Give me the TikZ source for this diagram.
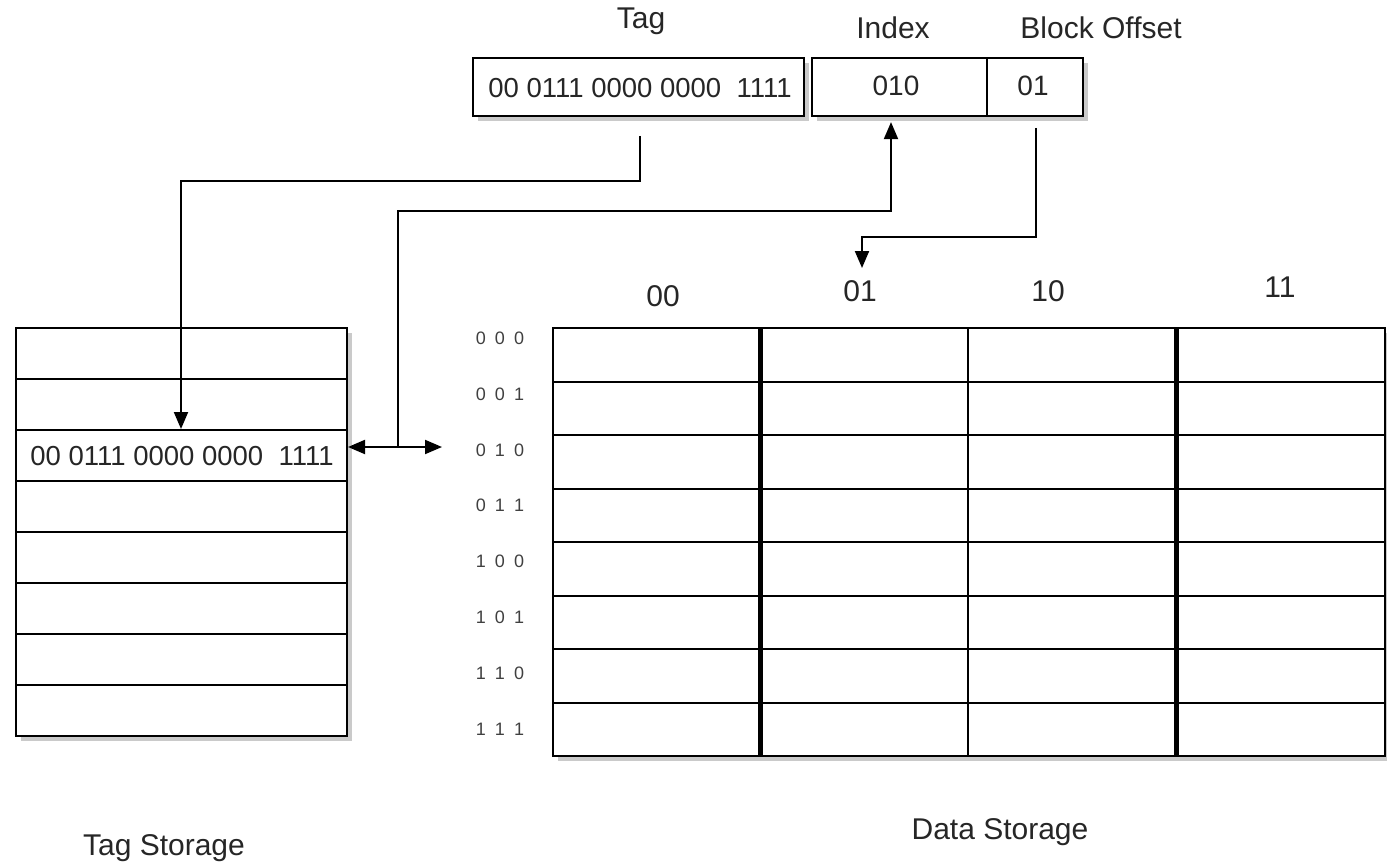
\documentclass[tikz,border=0pt]{standalone}
\usepackage{fontspec}
\setmainfont{Liberation Sans}
\usetikzlibrary{arrows.meta,shadows}
\begin{document}
\begin{tikzpicture}[x=1pt,y=-1pt,
  lbl/.style={font=\fontsize{30}{34}\selectfont, inner sep=0pt, text=black!85},
  val/.style={font=\fontsize{28}{32}\selectfont, inner sep=0pt, text=black!85},
  tagtxt/.style={font=\fontsize{27.5}{31}\selectfont, inner sep=0pt, text=black!85},
  rowlbl/.style={font=\fontsize{18}{20}\selectfont, inner sep=0pt, text=black!75,
     execute at begin node={\spaceskip=9pt\relax}},
  box/.style={draw=black, line width=2.2pt, fill=white, inner sep=0pt,
     drop shadow={shadow xshift=5pt, shadow yshift=-5pt, opacity=0.35, fill=black!60}},
  cell/.style={draw=black, line width=2pt, inner sep=0pt, minimum width=331pt, minimum height=51pt},
  arr/.style={line width=2pt, -{Triangle[length=17pt,width=14pt]}}
]
\useasboundingbox (0,0) rectangle (1387,864);

% ---- address fields
\node[box, minimum width=331pt, minimum height=58pt] (tagbox) at (638.5,87) {};
\node[tagtxt] (tagval) at (640,88) {00 0111 0000 0000~~1111};
\node[box, minimum width=175pt, minimum height=58pt] (idx) at (899.5,87) {};
\node[val] (idxval) at (896,86) {010};
\node[box, minimum width=96pt, minimum height=58pt] (off) at (1035,87) {};
\node[val] (offval) at (1033,86) {01};
\node[lbl] (ltag) at (641,21) {Tag};
\node[lbl] (lidx) at (893,28) {Index};
\node[lbl] (loff) at (1101,28) {Block Offset};

% ---- tag storage
\node[box, minimum width=331pt, minimum height=408pt] (ts) at (181.5,532) {};
\foreach \i in {1,...,8}{
  \node[cell] (ts\i) at (181.5,{328+51*(\i-1)+25.5}) {};
}
\node[tagtxt] (tsval) at (182,456) {00 0111 0000 0000~~1111};
\node[lbl] (lts) at (164,848) {Tag Storage};

% ---- data storage
\node[box, minimum width=832pt, minimum height=428pt] (ds) at (969,542) {};
\foreach \i in {1,...,7}{
  \draw[line width=2pt] (553,{328+53.5*\i}) -- (1385,{328+53.5*\i});
}
\draw[line width=5pt] (760,328) -- (760,756);
\draw[line width=2pt] (968,328) -- (968,756);
\draw[line width=5pt] (1176,328) -- (1176,756);
\draw[line width=2.2pt] (553,328) rectangle (1385,756);
\foreach \t [count=\i from 0] in {0 0 0,0 0 1,0 1 0,0 1 1,1 0 0,1 0 1,1 1 0,1 1 1}{
  \node[rowlbl] (r\i) at (500,{338+55.9*\i}) {\t};
}
\node[lbl] (c00) at (663,296) {00};
\node[lbl] (c01) at (860,291) {01};
\node[lbl] (c10) at (1048,291) {10};
\node[lbl] (c11) at (1280,287) {11};
\node[lbl] (lds) at (1000,832) {Data Storage};

% ---- connectors
\coordinate (tagout) at (640,136);
\coordinate (tsx) at (181,181);
\draw[arr] (tagout) |- (tsx) -- (tsx |- ts3.north);

\coordinate (jn) at (398,447);
\coordinate (ixc) at (891,211);
\draw[arr, shorten >=5pt] (jn) |- (ixc) -- (ixc |- idx.south);
\draw[arr] (jn) -- (ts3.east |- jn);
\coordinate (dsin) at (442,447);
\draw[arr] (jn) -- (dsin);

\coordinate (offout) at (1036,128);
\coordinate (offx) at (862,237);
\coordinate (c01in) at (862,268);
\draw[arr] (offout) |- (offx) -- (c01in);
\end{tikzpicture}
\end{document}
